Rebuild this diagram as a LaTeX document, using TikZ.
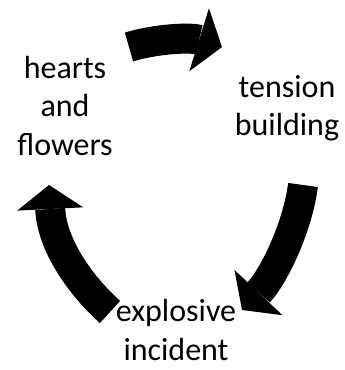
\documentclass[tikz,border=0pt]{standalone}
\usepackage{fontspec}
\setmainfont{Carlito}
\usetikzlibrary{arrows.meta}

\begin{document}
\begin{tikzpicture}[
    x=1pt, y=-1pt,
    stage/.style={align=center, inner sep=0pt, font=\fontsize{32}{38.5}\selectfont},
    turn/.style={line width=30pt, draw=black, -{Triangle[width=66pt, length=24pt, line width=0pt]}}
]
\useasboundingbox (0,0) rectangle (345,370);

% Nodes
\node[stage] (hearts) at (65,106) {hearts\\and\\flowers};
\node[stage] (tension) at (287,108) {tension\\building};
\node[stage] (explosive) at (176,330) {explosive\\incident};

% Arrow ends
\coordinate (toptail) at (129,47);
\coordinate (toptip) at (222,47);
\coordinate (righttail) at (303,185);
\coordinate (righttip) at (242,310);
\coordinate (lefttail) at (110,312);
\coordinate (lefttip) at (49,185);

% Edges
\draw[turn] (toptail) .. controls (155,39) and (190,37) .. (toptip);
\draw[turn] (righttail) .. controls (298,225) and (275,275) .. (righttip);
\draw[turn] (lefttail) .. controls (80,285) and (52,245) .. (lefttip);

\end{tikzpicture}
\end{document}
